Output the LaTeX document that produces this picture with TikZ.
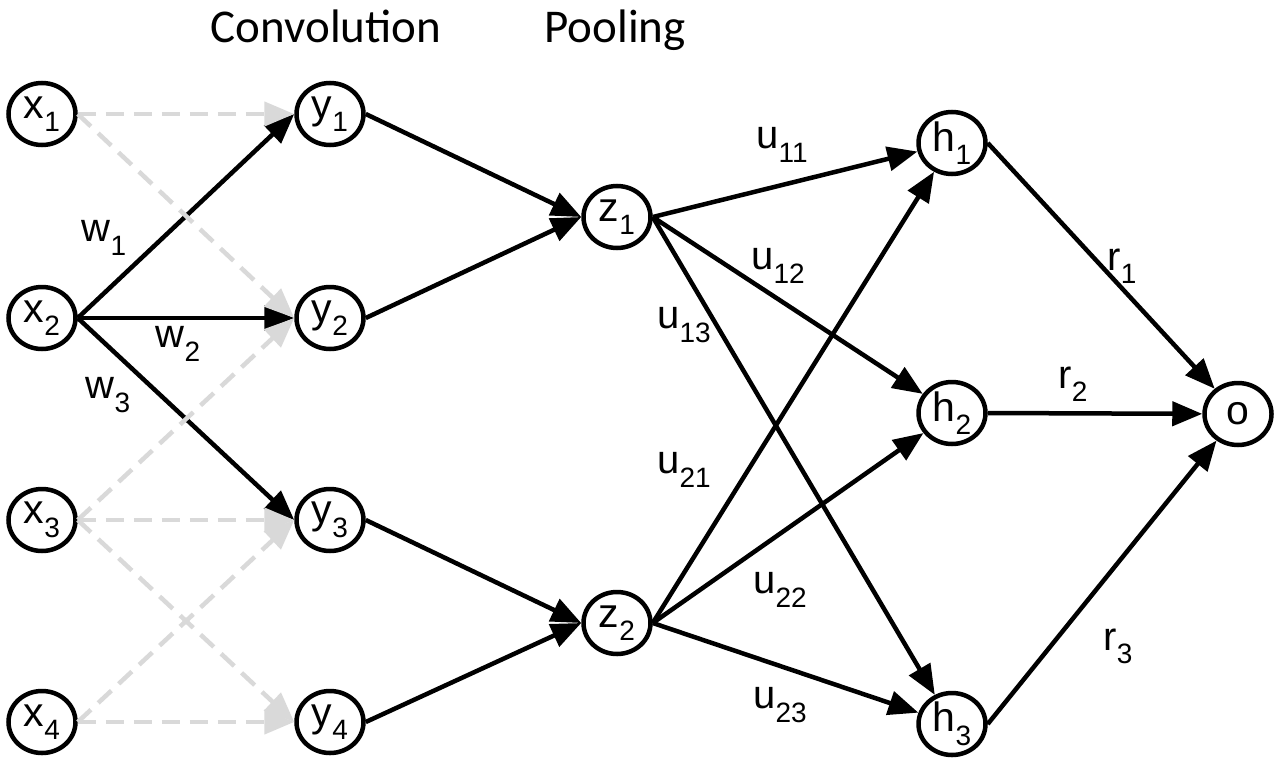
\documentclass[tikz,border=0pt]{standalone}
\usepackage{fontspec}
\setmainfont{Liberation Sans}
\newfontfamily\calib{Carlito}
\usetikzlibrary{arrows.meta,shapes.geometric}
\definecolor{ghostgray}{RGB}{217,217,217}
\newcommand{\lbl}[2]{#1\raisebox{-0.33em}{\fontsize{28}{28}\selectfont #2}}
\begin{document}
\begin{tikzpicture}[x=1pt,y=-1pt,
  neuron/.style={draw, ellipse, line width=4.5pt, minimum width=67pt, minimum height=62pt, inner sep=0pt, font=\fontsize{41}{41}\selectfont},
  conn/.style={line width=4.5pt, -{Triangle[length=30pt,width=24pt]}},
  ghost/.style={line width=4.5pt, draw=ghostgray, dash pattern=on 18pt off 10pt, -{Triangle[length=30pt,width=24pt]}},
  wlab/.style={font=\fontsize{40}{40}\selectfont, inner sep=0pt},
  title/.style={font=\calib\fontsize{47}{47}\selectfont, inner sep=0pt, anchor=base}
]
\useasboundingbox (0,0) rectangle (1276,760);

\node[title] (conv) at (326,43) {Convolution};
\node[title] (pool) at (615,43) {Pooling};

\node[neuron] (x1) at (42,114) {\lbl{x}{1}};
\node[neuron] (x2) at (42,318) {\lbl{x}{2}};
\node[neuron] (x3) at (42,520) {\lbl{x}{3}};
\node[neuron] (x4) at (42,722) {\lbl{x}{4}};

\node[neuron] (y1) at (330,114) {\lbl{y}{1}};
\node[neuron] (y2) at (330,318) {\lbl{y}{2}};
\node[neuron] (y3) at (330,520) {\lbl{y}{3}};
\node[neuron] (y4) at (330,722) {\lbl{y}{4}};

\node[neuron] (z1) at (617,217) {\lbl{z}{1}};
\node[neuron] (z2) at (617,623) {\lbl{z}{2}};

\node[neuron] (h1) at (952,143) {\lbl{h}{1}};
\node[neuron] (h2) at (952,413) {\lbl{h}{2}};
\node[neuron] (h3) at (952,724) {\lbl{h}{3}};

\node[neuron] (o) at (1238,414) {o};

% solid connections
\draw[conn] (x2.east) -- (y1.west);
\draw[conn] (x2.east) -- (y2.west);
\draw[conn] (x2.east) -- (y3.west);
\draw[conn] (y1.east) -- (z1.west);
\draw[conn] (y2.east) -- (z1.west);
\draw[conn] (y3.east) -- (z2.west);
\draw[conn] (y4.east) -- (z2.west);
\draw[conn] (z1.east) -- (h1);
\draw[conn] (z1.east) -- (h2);
\draw[conn] (z1.east) -- (h3);
\draw[conn] (z2.east) -- (h1);
\draw[conn] (z2.east) -- (h2);
\draw[conn] (z2.east) -- (h3);
\draw[conn] (h1.east) -- (o);
\draw[conn] (h2.east) -- (o);
\draw[conn] (h3.east) -- (o);

% dashed (inactive) connections
\draw[ghost] (x1.east) -- (y1.west);
\draw[ghost] (x1.east) -- (y2.west);
\draw[ghost] (x3.east) -- (y2.west);
\draw[ghost] (x3.east) -- (y3.west);
\draw[ghost] (x3.east) -- (y4.west);
\draw[ghost] (x4.east) -- (y3.west);
\draw[ghost] (x4.east) -- (y4.west);

% weight labels
\node[wlab] (w1) at (104,238) {\lbl{w}{1}};
\node[wlab] (w2) at (178,344) {\lbl{w}{2}};
\node[wlab] (w3) at (108,395) {\lbl{w}{3}};
\node[wlab] (u11) at (782,145) {\lbl{u}{11}};
\node[wlab] (u12) at (778,266) {\lbl{u}{12}};
\node[wlab] (u13) at (684,325) {\lbl{u}{13}};
\node[wlab] (u21) at (684,470) {\lbl{u}{21}};
\node[wlab] (u22) at (780,590) {\lbl{u}{22}};
\node[wlab] (u23) at (780,705) {\lbl{u}{23}};
\node[wlab] (r1) at (1122,266) {\lbl{r}{1}};
\node[wlab] (r2) at (1073,384) {\lbl{r}{2}};
\node[wlab] (r3) at (1118,646) {\lbl{r}{3}};
\end{tikzpicture}
\end{document}
